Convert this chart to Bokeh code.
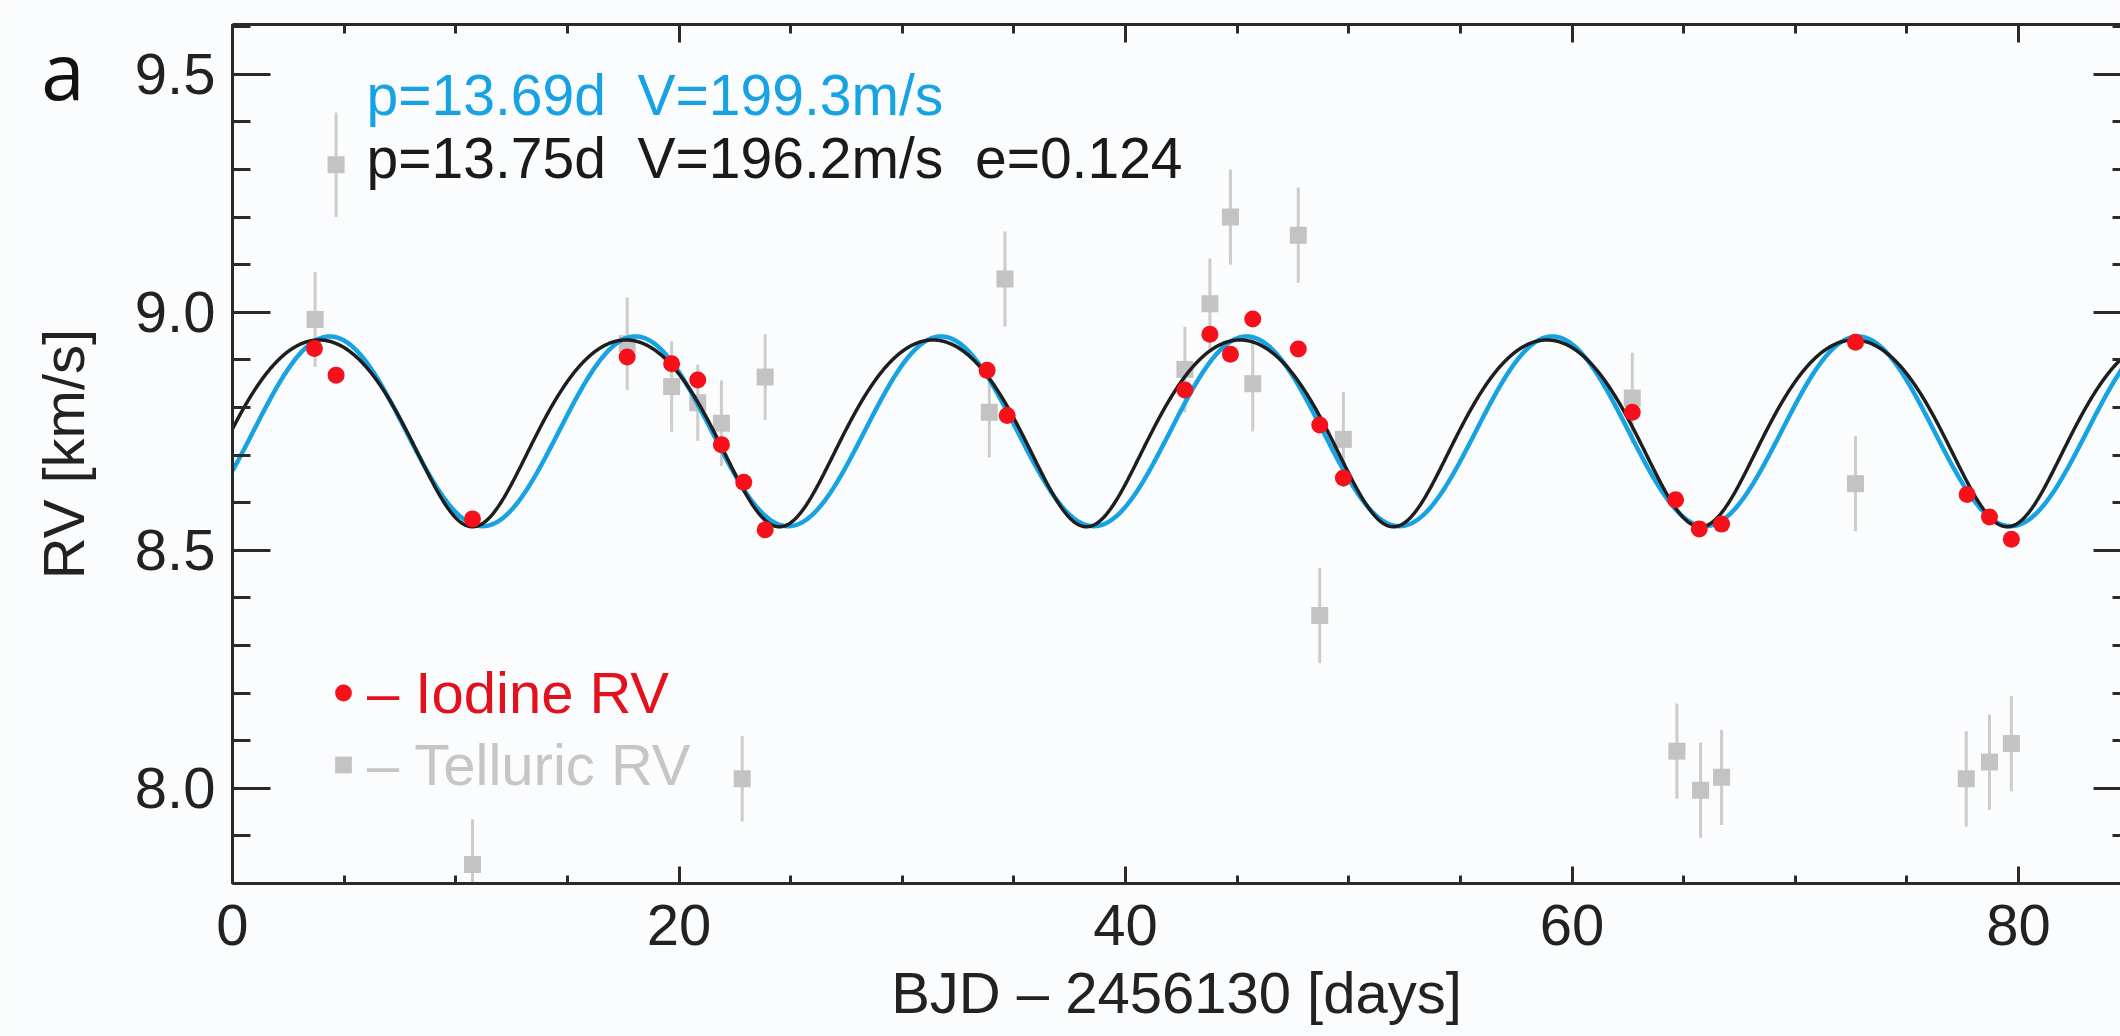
import numpy as np
from bokeh.plotting import figure
from bokeh.models import (Range1d, LinearAxis, FixedTicker, Label, Legend, LegendItem,
                          PrintfTickFormatter, ColumnDataSource)
from bokeh.embed import file_html
from bokeh.resources import INLINE

# ---------------- data ----------------
iodine_day = [3.67, 4.64, 10.75, 17.68, 19.67, 20.84, 21.9, 22.9, 23.86, 33.8, 34.7,
              42.66, 43.78, 44.7, 45.7, 47.74, 48.7, 49.76, 62.7, 64.64, 65.7, 66.7,
              72.7, 77.7, 78.7, 79.68]
iodine_rv = [8.924, 8.868, 8.566, 8.906, 8.892, 8.858, 8.722, 8.643, 8.543, 8.878, 8.783,
             8.837, 8.954, 8.912, 8.986, 8.923, 8.763, 8.652, 8.79, 8.606, 8.545, 8.555,
             8.937, 8.617, 8.57, 8.523]

telluric_day = [3.7, 4.64, 10.75, 17.68, 19.67, 20.84, 21.9, 22.83, 23.86, 33.9, 34.6,
                42.66, 43.78, 44.7, 45.7, 47.74, 48.7, 49.76, 62.7, 64.7, 65.76, 66.7,
                72.7, 77.66, 78.7, 79.68]
telluric_rv = [8.985, 9.31, 7.84, 8.934, 8.844, 8.81, 8.767, 8.02, 8.864, 8.79, 9.07,
               8.88, 9.018, 9.20, 8.85, 9.162, 8.363, 8.733, 8.82, 8.078, 7.996, 8.023,
               8.64, 8.02, 8.055, 8.094]
telluric_err = [0.10, 0.11, 0.095, 0.097, 0.095, 0.08, 0.09, 0.09, 0.09, 0.095, 0.10,
                0.09, 0.095, 0.10, 0.10, 0.10, 0.10, 0.10, 0.095, 0.10, 0.10, 0.10,
                0.10, 0.10, 0.10, 0.10]

# model parameters (circular fit: blue, Keplerian fit: black)
circ_period, circ_K, circ_gamma, circ_tmin = 13.69, 0.1993, 8.75, 11.2
kep_period, kep_K, kep_e, kep_gamma, kep_omega_deg, kep_tperi = 13.75, 0.1962, 0.124, 8.77, 180.0, 10.75

x_ticks = [0, 20, 40, 60, 80]
x_minor = [0, 5, 10, 15, 20, 25, 30, 35, 40, 45, 50, 55, 60, 65, 70, 75, 80, 85]
y_ticks = [8.0, 8.5, 9.0, 9.5]
y_minor = [7.8, 7.9, 8.0, 8.1, 8.2, 8.3, 8.4, 8.5, 8.6, 8.7, 8.8, 8.9, 9.0, 9.1, 9.2, 9.3, 9.4, 9.5, 9.6]

NB = "\u00a0"
label_circ = "p=13.69d" + NB + " V=199.3m/s"
label_kep = "p=13.75d" + NB + " V=196.2m/s" + NB + " e=0.124"
panel_letter = "a"
x_title = "BJD – 2456130 [days]"
y_title = "RV [km/s]"

# ---------------- layout ----------------
W, H = 2120, 1036
FL, FT, FB = 232, 24, 153
PX_DAY = 22.325
PX_KMS = 476.0
x_end = (W - FL) / PX_DAY
y0 = 7.8
y_end = y0 + (H - FT - FB) / PX_KMS
FRAME_BOTTOM = H - FB

def dx(px):
    return (px - FL) / PX_DAY

def dy(py):
    return y0 + (FRAME_BOTTOM - py) / PX_KMS

FONT = "Liberation Sans"
BG = "#fbfcfd"
AX = "#2a2a2a"
BLUE = "#17a3e3"
RED = "#f5101a"
GRAY = "#c3c3c3"

# ---------------- models ----------------
t = np.linspace(0, 86, 3000)
v_circ = circ_gamma - circ_K * np.cos(2 * np.pi * (t - circ_tmin) / circ_period)

M = 2 * np.pi * (t - kep_tperi) / kep_period
E = M.copy()
for _ in range(50):
    E = E - (E - kep_e * np.sin(E) - M) / (1 - kep_e * np.cos(E))
nu = 2 * np.arctan2(np.sqrt(1 + kep_e) * np.sin(E / 2), np.sqrt(1 - kep_e) * np.cos(E / 2))
om = np.deg2rad(kep_omega_deg)
v_kep = kep_gamma + kep_K * (np.cos(nu + om) + kep_e * np.cos(om))

# ---------------- figure ----------------
p = figure(width=W, height=H, x_range=Range1d(0, x_end), y_range=Range1d(y0, y_end),
           output_backend="svg", toolbar_location=None,
           x_axis_location=None, y_axis_location=None,
           min_border_left=FL, min_border_right=0, min_border_top=FT, min_border_bottom=FB)
p.grid.visible = False
p.outline_line_color = None
p.background_fill_color = BG
p.border_fill_color = BG

xt = FixedTicker(ticks=x_ticks, minor_ticks=x_minor)
yt = FixedTicker(ticks=y_ticks, minor_ticks=y_minor)

def style_axis(ax, major_in, minor_in, line=True):
    ax.axis_line_color = AX if line else None
    ax.axis_line_width = 3
    ax.major_tick_line_color = AX
    ax.minor_tick_line_color = AX
    ax.major_tick_line_width = 3
    ax.minor_tick_line_width = 3
    ax.major_tick_in = major_in
    ax.major_tick_out = 0
    ax.minor_tick_in = minor_in
    ax.minor_tick_out = 0
    ax.major_label_text_font = FONT
    ax.major_label_text_font_size = "58px"
    ax.major_label_text_color = "#222222"
    ax.axis_label_text_font = FONT
    ax.axis_label_text_font_size = "58px"
    ax.axis_label_text_font_style = "normal"
    ax.axis_label_text_color = "#222222"

xb = LinearAxis(ticker=xt, axis_label=x_title)
style_axis(xb, 17, 8)
xb.major_label_standoff = 21
xb.axis_label_standoff = 12
p.add_layout(xb, "below")

yl = LinearAxis(ticker=yt, axis_label=y_title, formatter=PrintfTickFormatter(format="%.1f"))
style_axis(yl, 38, 18)
yl.major_label_standoff = 17
yl.axis_label_standoff = 36
p.add_layout(yl, "left")

xtop = LinearAxis(ticker=xt, major_label_overrides={v: "" for v in x_ticks})
style_axis(xtop, 18, 9)
xtop.major_label_text_font_size = "1px"
xtop.major_label_standoff = 0
p.add_layout(xtop, "above")

yr = LinearAxis(ticker=yt, major_label_overrides={v: "" for v in y_ticks})
style_axis(yr, 27, 8, line=False)
yr.major_label_text_font_size = "1px"
yr.major_label_standoff = 0
p.add_layout(yr, "right")

# panel letter "a": an outer, bare left axis whose single tick label is the letter
letter_y = round(dy(70), 3)
la = LinearAxis(ticker=FixedTicker(ticks=[letter_y], minor_ticks=[]),
                major_label_overrides={letter_y: panel_letter})
la.axis_line_color = None
la.major_tick_line_color = None
la.minor_tick_line_color = None
la.major_tick_in = 0
la.major_tick_out = 0
la.major_label_text_font = "Open Sans"
la.major_label_text_font_size = "78px"
la.major_label_text_color = "#111111"
la.major_label_standoff = -57
p.add_layout(la, "left")

# ---------------- glyphs ----------------
tel = ColumnDataSource(dict(x=telluric_day, y=telluric_rv,
                            lo=[v - e for v, e in zip(telluric_rv, telluric_err)],
                            hi=[v + e for v, e in zip(telluric_rv, telluric_err)]))
p.segment(x0="x", y0="lo", x1="x", y1="hi", source=tel, line_color="#cccccc", line_width=3)
r_tel = p.scatter(x="x", y="y", source=tel, marker="square", size=17,
                  fill_color=GRAY, line_color=None)

p.line(t, v_circ, line_color=BLUE, line_width=4.5)
p.line(t, v_kep, line_color="#1e1e1e", line_width=3.5)

r_iod = p.scatter(iodine_day, iodine_rv, marker="circle", size=17,
                  fill_color=RED, line_color=None)

# ---------------- legend ----------------
leg1 = Legend(items=[LegendItem(label="– Iodine RV", renderers=[r_iod])],
              location=(90, 157), label_text_color="#e3101e")
leg2 = Legend(items=[LegendItem(label="– Telluric RV", renderers=[r_tel])],
              location=(90, 85), label_text_color="#c6c6c6")
for lg in (leg1, leg2):
    lg.label_text_font = FONT
    lg.label_text_font_size = "58px"
    lg.glyph_width = 42
    lg.glyph_height = 67
    lg.label_standoff = 3
    lg.padding = 0
    lg.margin = 0
    lg.spacing = 0
    lg.border_line_color = None
    lg.background_fill_alpha = 0
    p.add_layout(lg, "center")

# ---------------- annotations ----------------
p.add_layout(Label(x=dx(366), y=dy(94), text=label_circ, text_font=FONT,
                   text_font_size="57px", text_color=BLUE, text_baseline="alphabetic"))
p.add_layout(Label(x=dx(366), y=dy(157), text=label_kep, text_font=FONT,
                   text_font_size="57px", text_color="#1a1a1a", text_baseline="alphabetic"))

open("out.html", "w").write(file_html(p, INLINE))
